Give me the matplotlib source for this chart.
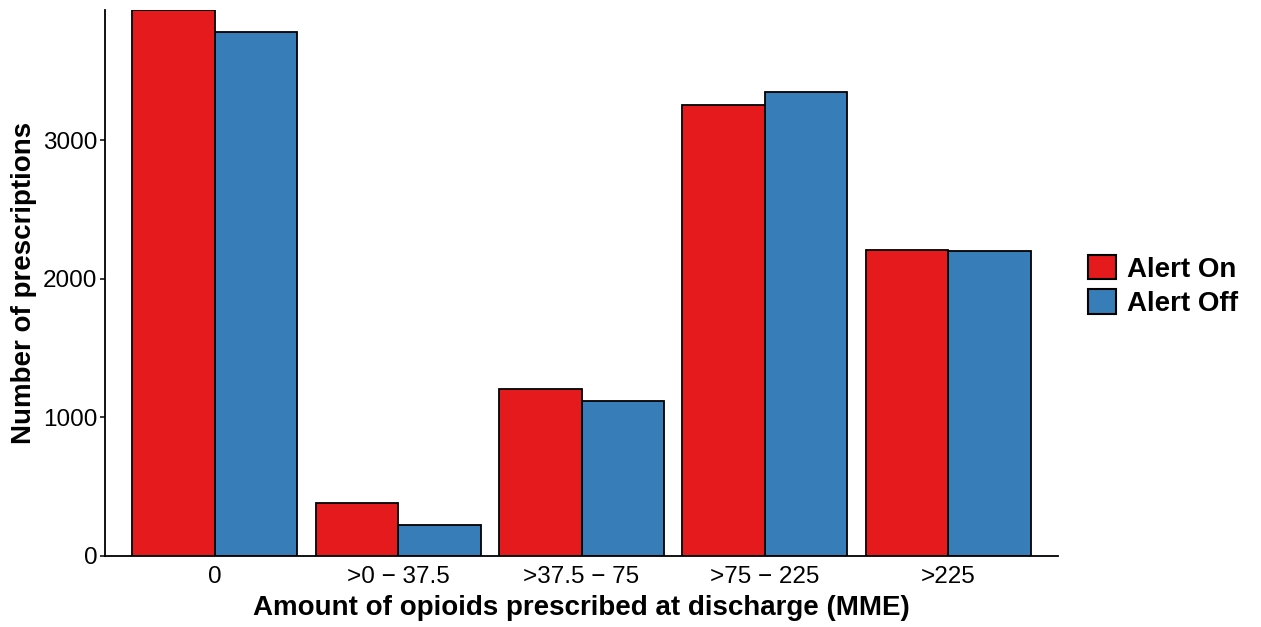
import numpy as np
import matplotlib
matplotlib.use("Agg")
import matplotlib.pyplot as plt
from matplotlib.patches import Patch

plt.rcParams['font.family'] = ['Liberation Sans', 'DejaVu Sans']

# data
categories = ['0', '>0 \u2212 37.5', '>37.5 \u2212 75', '>75 \u2212 225', '>225']
alert_on = [3940, 383, 1206, 3256, 2209]
alert_off = [3783, 224, 1119, 3350, 2202]
series_names = ['Alert On', 'Alert Off']
series_colors = ['#E41A1C', '#377EB8']

fig = plt.figure(figsize=(12.61, 6.27), dpi=100)
ax = fig.add_axes([105 / 1261, 1 - 556 / 627, (1058 - 105) / 1261, (556 - 10) / 627])

x = np.arange(len(categories))
w = 0.45
ax.bar(x - w / 2, alert_on, width=w, color=series_colors[0], edgecolor='black', linewidth=1.3)
ax.bar(x + w / 2, alert_off, width=w, color=series_colors[1], edgecolor='black', linewidth=1.3)

ax.set_xlim(-0.6, len(categories) - 0.4)
ax.set_ylim(0, max(alert_on + alert_off))
ax.set_yticks([0, 1000, 2000, 3000])
ax.set_xticks(x)
ax.set_xticklabels(categories)
ax.tick_params(axis='x', length=0, labelsize=17.5, pad=7.5)
ax.tick_params(axis='y', length=3.6, width=1.1, labelsize=17.5, pad=2)

for s in ['top', 'right']:
    ax.spines[s].set_visible(False)
for s in ['left', 'bottom']:
    ax.spines[s].set_linewidth(1.3)

ax.set_xlabel('Amount of opioids prescribed at discharge (MME)', fontsize=20, fontweight='bold', labelpad=4.5)
ax.set_ylabel('Number of prescriptions', fontsize=20, fontweight='bold', labelpad=4)

handles = [Patch(facecolor=c, edgecolor='black', linewidth=1.5, label=n)
           for c, n in zip(series_colors, series_names)]
fig.legend(handles=handles, loc='center left', bbox_to_anchor=(1063 / 1261, 1 - 286 / 627),
           frameon=False, prop={'weight': 'bold', 'size': 20},
           handlelength=1.0, handleheight=1.0, handletextpad=0.4, labelspacing=0.25,
           borderpad=0.4)

fig.savefig('out.png', dpi=100)
